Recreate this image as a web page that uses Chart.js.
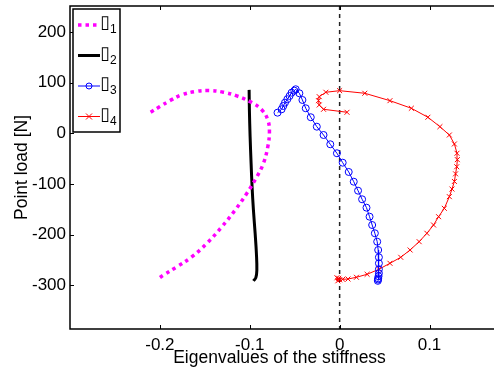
<!DOCTYPE html>
<html>
<head>
<meta charset="utf-8">
<script src="https://cdn.jsdelivr.net/npm/chart.js@4/dist/chart.umd.min.js"></script>
<style>
  html, body { margin: 0; padding: 0; background: #fff; }
</style>
</head>
<body>
<canvas id="chart" width="494" height="371"></canvas>
<script>
// eigenvalue paths, x = eigenvalue, y = point load [N]
const lambda1X = [-0.2103, -0.2000, -0.1888, -0.1758, -0.1609, -0.1461, -0.1294, -0.1144, -0.0977, -0.0865, -0.0799, -0.0781, -0.0799, -0.0848, -0.0921, -0.1033, -0.1163, -0.1311, -0.1479, -0.1646, -0.1813, -0.1963, -0.2030];
const lambda1Y = [41.5, 52.6, 64.4, 75.7, 82.2, 84.2, 81.0, 73.7, 60.5, 46.0, 26.3, 3.2, -26.5, -59.3, -85.8, -118.6, -151.6, -184.6, -217.4, -243.9, -263.6, -280.0, -288.5];

const lambda2X = [-0.1007, -0.1004, -0.0996, -0.0985, -0.0974, -0.0959, -0.0940, -0.0926, -0.0921, -0.0932, -0.0959];
const lambda2Y = [85.6, 46.0, -6.7, -59.3, -105.5, -151.6, -197.6, -237.2, -270.2, -284.6, -291.3];

const lambda3X = [-0.0691, -0.0646, -0.0627, -0.0608, -0.0582, -0.0557, -0.0534, -0.0504, -0.0489, -0.0448, -0.0414, -0.0377, -0.0321, -0.0254, -0.0179, -0.0104, -0.0030, 0.0034, 0.0101, 0.0157, 0.0205, 0.0250, 0.0299, 0.0333, 0.0362, 0.0392, 0.0418, 0.0429, 0.0437, 0.0437, 0.0437, 0.0437, 0.0433, 0.0429, 0.0427, 0.0425];
const lambda3Y = [40.6, 47.3, 53.8, 60.4, 67.1, 73.6, 80.1, 84.0, 86.8, 78.9, 65.7, 49.3, 31.6, 13.0, -3.4, -21.7, -39.4, -58.0, -76.3, -95.5, -113.2, -130.2, -146.7, -164.5, -180.9, -197.2, -213.8, -230.2, -244.6, -256.4, -268.2, -276.1, -282.0, -286.0, -288.5, -291.0];

const lambda4X = [-0.0020, -0.0030, 0.0000, -0.0010, 0.0034, 0.0093, 0.0187, 0.0306, 0.0437, 0.0560, 0.0680, 0.0784, 0.0885, 0.0971, 0.1045, 0.1101, 0.1165, 0.1221, 0.1250, 0.1277, 0.1290, 0.1303, 0.1310, 0.1306, 0.1277, 0.1221, 0.1116, 0.0982, 0.0798, 0.0560, 0.0280, 0.0000, -0.0153, -0.0227, -0.0235, -0.0227, -0.0179, 0.0082];
const lambda4Y = [-291, -285, -289, -286, -288, -287.4, -284, -278.1, -268.2, -256.4, -244.6, -230.2, -213.8, -197.2, -180.9, -164.5, -148, -125, -110, -95, -80, -66, -52, -39.4, -21.1, -3.4, 13.0, 31.6, 49.3, 64.3, 78.9, 84.0, 80.9, 72.2, 64.3, 55.8, 47.3, 41.4];

const legendLabels = ['1', '2', '3', '4'];
const xTicks = [-0.2, -0.1, 0, 0.1];
const yTicks = [-300, -200, -100, 0, 100, 200];

const FONT = 'Liberation Sans, Arial, Helvetica, sans-serif';

function toPoints(xs, ys) {
  return xs.map((x, i) => ({ x: x, y: ys[i] }));
}

// box, inward ticks and the dashed zero line
const frame = {
  id: 'frame',
  beforeDatasetsDraw(chart) {
    const { ctx, chartArea: a, scales } = chart;
    const x0 = scales.x.getPixelForValue(0);
    ctx.save();
    ctx.strokeStyle = '#222';
    ctx.lineWidth = 1.5;
    ctx.setLineDash([4, 4]);
    ctx.beginPath();
    ctx.moveTo(x0, a.top);
    ctx.lineTo(x0, a.bottom);
    ctx.stroke();
    ctx.restore();
  },
  afterDatasetsDraw(chart) {
    const { ctx, chartArea: a, scales } = chart;
    ctx.save();
    ctx.strokeStyle = '#000';
    ctx.lineWidth = 1.5;
    ctx.beginPath();
    ctx.moveTo(chart.width, a.top);
    ctx.lineTo(a.left, a.top);
    ctx.lineTo(a.left, a.bottom);
    ctx.lineTo(chart.width, a.bottom);
    ctx.stroke();
    ctx.lineWidth = 1;
    ctx.beginPath();
    xTicks.forEach(v => {
      const px = Math.round(scales.x.getPixelForValue(v)) + 0.5;
      ctx.moveTo(px, a.bottom);
      ctx.lineTo(px, a.bottom - 4);
      ctx.moveTo(px, a.top);
      ctx.lineTo(px, a.top + 4);
    });
    yTicks.forEach(v => {
      const py = Math.round(scales.y.getPixelForValue(v)) + 0.5;
      ctx.moveTo(a.left, py);
      ctx.lineTo(a.left + 4, py);
    });
    ctx.stroke();
    ctx.restore();
  }
};

// legend box in the upper left corner
const boxLegend = {
  id: 'boxLegend',
  afterDraw(chart) {
    const { ctx } = chart;
    const left = 73, top = 9, w = 47, h = 123;
    ctx.save();
    ctx.fillStyle = '#fff';
    ctx.fillRect(left, top, w, h);
    ctx.strokeStyle = '#000';
    ctx.lineWidth = 1.5;
    ctx.strokeRect(left, top, w, h);
    chart.data.datasets.forEach((ds, i) => {
      const y = 25 + i * 30.5;
      ctx.strokeStyle = ds.borderColor;
      ctx.lineWidth = ds.borderWidth;
      ctx.setLineDash(ds.borderDash || []);
      ctx.beginPath();
      ctx.moveTo(78, y);
      ctx.lineTo(100, y);
      ctx.stroke();
      ctx.setLineDash([]);
      if (ds.pointRadius > 0) {
        ctx.lineWidth = 1;
        ctx.strokeStyle = ds.pointBorderColor;
        ctx.beginPath();
        if (ds.pointStyle === 'circle') {
          ctx.arc(89, y, 3, 0, Math.PI * 2);
        } else {
          ctx.moveTo(86, y - 3); ctx.lineTo(92, y + 3);
          ctx.moveTo(92, y - 3); ctx.lineTo(86, y + 3);
        }
        ctx.stroke();
      }
      ctx.fillStyle = '#000';
      ctx.textBaseline = 'alphabetic';
      ctx.font = '18px DejaVu Sans, sans-serif';
      ctx.fillText('\u25AF', 100, y + 3);
      ctx.font = '12px ' + FONT;
      ctx.fillText(legendLabels[i], 110, y + 8);
    });
    ctx.restore();
  }
};

new Chart(document.getElementById('chart'), {
  type: 'scatter',
  data: {
    datasets: [
      {
        label: '\u25AF1',
        data: toPoints(lambda1X, lambda1Y),
        showLine: true,
        borderColor: '#ff00ff',
        borderWidth: 3.5,
        borderDash: [3.5, 4],
        tension: 0.4,
        pointRadius: 0
      },
      {
        label: '\u25AF2',
        data: toPoints(lambda2X, lambda2Y),
        showLine: true,
        borderColor: '#000000',
        borderWidth: 3,
        tension: 0.4,
        pointRadius: 0
      },
      {
        label: '\u25AF3',
        data: toPoints(lambda3X, lambda3Y),
        showLine: true,
        borderColor: '#0000ff',
        borderWidth: 1,
        pointStyle: 'circle',
        pointRadius: 3.5,
        pointBorderWidth: 1,
        pointBorderColor: '#0000ff',
        pointBackgroundColor: 'rgba(0,0,0,0)'
      },
      {
        label: '\u25AF4',
        data: toPoints(lambda4X, lambda4Y),
        showLine: true,
        borderColor: '#ff0000',
        borderWidth: 1,
        pointStyle: 'crossRot',
        pointRadius: 3.5,
        pointBorderWidth: 1,
        pointBorderColor: '#ff0000',
        pointBackgroundColor: '#ff0000'
      }
    ]
  },
  options: {
    responsive: false,
    animation: false,
    devicePixelRatio: 1,
    layout: { padding: { top: 6, right: 0, left: 0, bottom: 0 } },
    plugins: {
      legend: { display: false },
      tooltip: { enabled: false }
    },
    scales: {
      x: {
        type: 'linear',
        min: -0.3,
        max: 0.1662,
        grid: { display: false },
        border: { display: false },
        afterBuildTicks: s => { s.ticks = xTicks.map(v => ({ value: v })); },
        afterFit: s => { s.height = 42; s.paddingLeft = 0; s.paddingRight = 0; },
        ticks: {
          color: '#000',
          padding: -2,
          maxRotation: 0,
          font: { family: FONT, size: 17 },
          callback: v => String(v)
        },
        title: {
          display: true,
          text: 'Eigenvalues of the stiffness',
          color: '#000',
          padding: { top: 0, bottom: 2 },
          font: { family: FONT, size: 17.5 }
        }
      },
      y: {
        type: 'linear',
        min: -386,
        max: 251,
        grid: { display: false },
        border: { display: false },
        afterBuildTicks: s => { s.ticks = yTicks.map(v => ({ value: v })); },
        afterFit: s => { s.width = 70; s.paddingTop = 0; s.paddingBottom = 0; },
        ticks: {
          color: '#000',
          padding: -4,
          font: { family: FONT, size: 17 }
        },
        title: {
          display: true,
          text: 'Point load [N]',
          color: '#000',
          padding: { top: 12, bottom: 0 },
          font: { family: FONT, size: 17.5 }
        }
      }
    }
  },
  plugins: [frame, boxLegend]
});
</script>
</body>
</html>
